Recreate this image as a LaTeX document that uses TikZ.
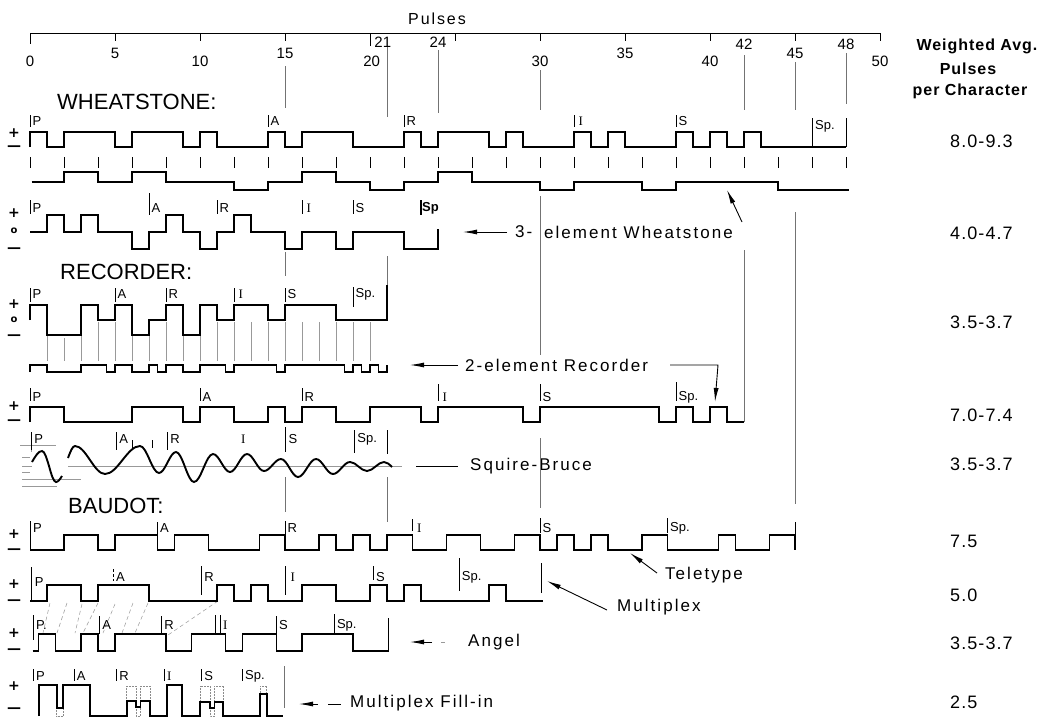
\documentclass[tikz,border=0pt]{standalone}
\usepackage{fontspec}
\setmainfont{Liberation Sans}
\newfontfamily\spc[LetterSpace=12]{Liberation Sans}
\newfontfamily\spcv[LetterSpace=6]{Liberation Sans}
\newfontfamily\serI{Liberation Serif}
\newfontfamily\djv{DejaVu Sans}
\usetikzlibrary{arrows.meta}
\newcounter{nd}
\tikzset{
  sig/.style={line width=1.9pt, line join=miter},
  guide/.style={line width=0.6pt, black!55},
  bar/.style={line width=0.9pt},
  tick/.style={line width=0.9pt},
  gl/.style={line width=0.5pt, black!40},
  dotbox/.style={line width=0.5pt, black!45, densely dotted},
  lab/.style={inner sep=0pt, anchor=west, font=\fontsize{13}{13}\selectfont},
  num/.style={inner sep=0pt, font=\fontsize{15}{15}\selectfont},
  ttl/.style={inner sep=0pt, anchor=west, font=\fontsize{22}{22}\selectfont},
  txt/.style={inner sep=0pt, anchor=west, font=\spc\fontsize{17}{17}\selectfont},
  val/.style={inner sep=0pt, anchor=west, font=\spcv\fontsize{18}{18}\selectfont},
  hdr/.style={inner sep=0pt, font=\spcv\bfseries\fontsize{16}{16}\selectfont},
  sgn/.style={inner sep=0pt, font=\djv\bfseries\fontsize{14}{14}\selectfont},
  sgo/.style={inner sep=0pt, font=\djv\bfseries\fontsize{10}{10}\selectfont},
  arr/.style={line width=0.9pt, -{Latex[length=14pt,width=5pt]}},
}
\newcommand\LL[5]{\stepcounter{nd}\draw[bar] (#1,#2) -- (#1,#3); \node[lab,xshift=2.5pt] (lb\arabic{nd}) at (#1,#4) {#5};}
\begin{document}
\begin{tikzpicture}[x=1pt,y=-1pt]
\useasboundingbox (0,0) rectangle (1054,718);
\fill[white] (0,0) rectangle (1054,718);

% ---------- titles and right column ----------
\node[inner sep=0pt, font=\spc\fontsize{16}{16}\selectfont] (pulses) at (437,19) {Pulses};
\node[ttl] (wh) at (57,102) {WHEATSTONE:};
\node[ttl] (rec) at (60,272) {RECORDER:};
\node[ttl] (bau) at (68,506) {BAUDOT:};

\node[hdr] (h1) at (977,46) {Weighted Avg.};
\node[hdr] (h2) at (968,69) {Pulses};
\node[hdr] (h3) at (970,91) {per Character};
\node[val] (v1) at (950,141) {8.0-9.3};
\node[val] (v2) at (950,233) {4.0-4.7};
\node[val] (v3) at (950,322) {3.5-3.7};
\node[val] (v4) at (950,415) {7.0-7.4};
\node[val] (v5) at (950,464) {3.5-3.7};
\node[val] (v6) at (950,541) {7.5};
\node[val] (v7) at (950,595) {5.0};
\node[val] (v8) at (950,643) {3.5-3.7};
\node[val] (v9) at (950,702) {2.5};

% ---------- +, o, - signs ----------
\node[sgn] (s1) at (14,133) {+};  \node[sgn] (s2) at (14,148) {\textemdash};
\node[sgn] (s3) at (14,213) {+};  \node[sgo] (s4) at (14,231) {o}; \node[sgn] (s5) at (14,250) {\textemdash};
\node[sgn] (s6) at (14,304) {+};  \node[sgo] (s7) at (14,320) {o}; \node[sgn] (s8) at (14,337) {\textemdash};
\node[sgn] (s9) at (14,406) {+};  \node[sgn] (s10) at (14,422) {\textemdash};
\node[sgn] (s11) at (14,534) {+}; \node[sgn] (s12) at (14,551) {\textemdash};
\node[sgn] (s13) at (14,584) {+}; \node[sgn] (s14) at (14,602) {\textemdash};
\node[sgn] (s15) at (14,633) {+}; \node[sgn] (s16) at (14,651) {\textemdash};
\node[sgn] (s17) at (14,686) {+}; \node[sgn] (s18) at (14,710) {\textemdash};

% ---------- Squire-Bruce wave (absolute) ----------
\draw[gl] (20,445) -- (56,445); \draw[gl] (22,457) -- (30,457); \draw[gl] (22,466) -- (32,466);
\draw[gl] (22,472) -- (30,472); \draw[gl] (22,479) -- (81,479); \draw[gl] (22,486) -- (57,486);
\draw[gl] (31,437) -- (31,452); \draw[gl] (68,466) -- (402,466);
\draw[sig] (32,462) sin (42,451) cos (49,466) sin (56,482) cos (62,476);
\draw[sig] (68,458) sin (75,446) cos (90,460) sin (105,474) cos (122.5,460) sin (140,446)
  cos (149.5,459.5) sin (159,473) cos (167.5,462.5) sin (176,452) cos (185,467) sin (194,482)
  cos (203.5,468) sin (213,454) cos (221.5,463) sin (230,472) cos (238.5,463) sin (247,454)
  cos (255.5,462.5) sin (264,471) cos (272.5,465) sin (281,459) cos (289.5,468) sin (298,477)
  cos (307,468) sin (316,459) cos (324.5,466.5) sin (333,474) cos (341.5,468) sin (350,462)
  cos (358.5,466.5) sin (367,471) cos (375.5,466.5) sin (384,462) cos (392,467);

% ---------- labels with arrows ----------
\coordinate (a3t) at (507,232); \coordinate (a3h) at (463,232);
\draw[arr] (a3t) -- (a3h);
\node[txt] (t3a) at (515,232) {3-};
\node[txt] (t3b) at (544,232) {element Wheatstone};
\coordinate (a3u) at (742,222); \coordinate (a3v) at (727,190);
\draw[arr] (a3u) -- (a3v);

\coordinate (a2t) at (458,365); \coordinate (a2h) at (410,365);
\draw[arr] (a2t) -- (a2h);
\node[txt] (t2) at (465,365) {2-element Recorder};
\coordinate (b1) at (670,365); \coordinate (b2) at (718,365); \coordinate (b3) at (715,402);
\draw[arr] (b1) -- (b2) -- (b3);

\coordinate (sq1) at (416,466); \coordinate (sq2) at (458,466);
\draw[line width=0.9pt] (sq1) -- (sq2);
\node[txt] (tsq) at (470,466) {Squire-Bruce};

\coordinate (tt1) at (657,573); \coordinate (tt2) at (630,553);
\draw[arr] (tt1) -- (tt2);
\node[txt] (ttt) at (665,575) {Teletype};

\coordinate (mp1) at (607,610); \coordinate (mp2) at (547,581);
\draw[arr] (mp1) -- (mp2);
\node[txt] (tmp) at (617,607) {Multiplex};

\coordinate (an1) at (432,642); \coordinate (an2) at (410,642);
\draw[arr] (an1) -- (an2);
\coordinate (an3) at (441,642); \coordinate (an4) at (445,642);
\draw[gl] (an3) -- (an4);
\node[txt] (tan) at (468,642) {Angel};

\coordinate (fi1) at (318,704); \coordinate (fi2) at (299,704);
\draw[arr] (fi1) -- (fi2);
\coordinate (fi3) at (328,704); \coordinate (fi4) at (341,704);
\draw[line width=0.9pt] (fi3) -- (fi4);
\node[txt] (tfi) at (350,703) {Multiplex Fill-in};

% ---------- multiplex to angel dashed ----------
\foreach \a/\b/\c/\d in {50/603/43/633, 67/603/57/633, 82/604/75/633, 98/603/83/633,
  115/604/103/633, 133/603/122/633, 148/603/135/633, 218/601/168/635}
  \draw[gl, dashed, dash pattern=on 4pt off 3pt] (\a,\b) -- (\c,\d);

% ================= pulse-scaled part =================
\begin{scope}[xshift=30pt, x=17pt]
% axis
\draw[tick] (0,33) -- (50,33);
\foreach \p in {5,10,...,50} \draw[tick] (\p,33) -- (\p,41);
\draw[tick] (0,33) -- (0,44);
\draw[tick] (20,33) -- (20,46);
\node[num] (n0) at (0,61) {0};
\node[num] (n5) at (5,53) {5};
\node[num] (n10) at (10,61) {10};
\node[num] (n15) at (15,53) {15};
\node[num] (n20) at (20.1,61) {20};
\node[num] (n21) at (20.75,42) {21};
\node[num] (n24) at (24,42) {24};
\node[num] (n30) at (30,61) {30};
\node[num] (n35) at (35,53) {35};
\node[num] (n40) at (40,61) {40};
\node[num] (n42) at (42,44) {42};
\node[num] (n45) at (45,53) {45};
\node[num] (n48) at (48,44) {48};
\node[num] (n50) at (50,61) {50};
\draw[guide] (15,66) -- (15,108);
\draw[guide] (21,47) -- (21,117);
\draw[guide] (24,50) -- (24,113);
\draw[guide] (30,70) -- (30,110);
\draw[guide] (42,55) -- (42,110);
\draw[guide] (45,62) -- (45,110);
\draw[guide] (48,53) -- (48,104);

% guides across rows
\draw[guide] (15,252) -- (15,276);
\draw[guide] (15,477) -- (15,512);
\draw[guide] (21,256) -- (21,285);
\draw[guide] (21,477) -- (21,522);
\draw[guide] (30,196) -- (30,355);
\draw[guide] (30,438) -- (30,508);
\draw[guide] (42,250) -- (42,422);
\draw[guide] (45,212) -- (45,504);

% ----- Wheatstone -----
\LL{0}{115}{127}{121}{P}
\LL{14}{115}{127}{121}{A}
\LL{22}{115}{127}{121}{R}
\LL{32}{115}{127}{121}{\hspace{2pt}\serI I}
\LL{38}{115}{127}{121}{S}
\draw[bar] (46,118) -- (46,147); \draw[bar] (48,118) -- (48,147);
\node[lab,xshift=3pt] (whsp) at (46,126) {Sp.};
\draw[sig] (0,147) -- (0,132) -| (1,147) -| (2,132) -| (5,147) -| (6,132) -| (9,147) -| (10,132)
  -| (11,147) -| (14,132) -| (15,147) -| (16,132) -| (19,147) -| (22,132) -| (23,147) -| (24,132)
  -| (27,147) -| (28,132) -| (29,147) -| (32,132) -| (33,147) -| (34,132) -| (35,147) -| (38,132)
  -| (39,147) -| (40,132) -| (41,147) -| (42,132) -| (43,147) -- (48,147);
\foreach \p in {0,2,...,48} \draw[bar] (\p,157) -- (\p,168);
\draw[sig] (0.1,182) -| (2,172) -| (4,182) -| (6,172) -| (8,182) -| (12,190) -| (14,182) -| (16,172)
  -| (18,182) -| (20,190) -| (22,182) -| (24,172) -| (26,182) -| (30,190) -| (32,182) -| (36,190)
  -| (38,182) -| (44,190) -- (48.2,190);

% ----- 3-element Wheatstone -----
\LL{0}{200}{214}{208}{P}
\LL{7}{193}{215}{208}{A}
\LL{11}{200}{214}{208}{R}
\LL{16}{200}{214}{208}{\hspace{2pt}\serI I}
\LL{19}{200}{214}{208}{S}
\draw[line width=1.3pt] (23,200) -- (23,215);
\node[lab,xshift=1pt,font=\bfseries\fontsize{13}{13}\selectfont] (sp3) at (23,208) {Sp};
\draw[sig] (0,232) -| (1,215) -| (2,232) -| (3,215) -| (4,232) -| (6,249) -| (7,232) -| (8,215)
  -| (9,232) -| (10,249) -| (11,232) -| (12,215) -| (13,232) -| (15,249) -| (16,232) -| (18,249)
  -| (19,232) -| (22,249) -- (24,249) -- (24,229);

% ----- Recorder -----
\LL{0}{288}{302}{294}{P}
\LL{5}{288}{302}{294}{A}
\LL{8}{288}{302}{294}{R}
\LL{12}{288}{302}{294}{\hspace{2pt}\serI I}
\LL{15}{288}{302}{294}{S}
\LL{19}{287}{307}{294}{Sp.}
\foreach \p in {1,3,4,...,20} \draw[gl] (\p,322) -- (\p,361);
\draw[gl] (2,338) -- (2,361);
\draw[sig] (0,320) -- (0,305) -| (1,335) -| (3,305) -| (4,320) -| (5,305) -| (6,335) -| (7,320)
  -| (8,305) -| (9,335) -| (10,305) -| (11,320) -| (12,305) -| (14,320) -| (15,305) -| (18,320)
  -- (21,320) -- (21,285);
\draw[sig] (0,372) -- (0,365) -| (1,372) -| (3,365) -| (4.5,372) -| (5,365) -| (6,372) -| (7,365)
  -| (7.5,372) -| (8,365) -| (9,372) -| (10,365) -| (11.5,372) -| (12,365) -| (14.5,372) -| (15,365)
  -| (18.5,372) -| (19,365) -| (19.5,372) -| (20,365) -| (20.5,372) -| (21,365);

% ----- 7.0-7.4 trace -----
\LL{0}{388}{401}{397}{P}
\LL{10}{388}{401}{397}{A}
\LL{16}{388}{401}{397}{R}
\LL{24}{384}{401}{397}{\hspace{2pt}\serI I}
\LL{30}{384}{401}{397}{S}
\LL{38}{382}{401}{397}{Sp.}
\draw[sig] (0,422) -- (0,407) -| (2,422) -| (6,407) -| (9,422) -| (10,407) -| (12,422) -| (14,407)
  -| (15,422) -| (16,407) -| (18,422) -| (20,407) -| (23,422) -| (24,407) -| (29,422) -| (30,407)
  -| (37,422) -| (38,407) -| (39,422) -| (40,407) -| (41,422) -- (42,422);

% ----- Squire-Bruce labels -----
\LL{0.1}{432}{450}{439}{P}
\LL{5.1}{432}{450}{439}{A}
\LL{8.1}{432}{450}{439}{R}
\node[lab] (sqI) at (12.4,439) {\serI I};
\LL{15.05}{427}{452}{439}{S}
\LL{19.1}{430}{453}{439}{Sp.}
\draw[bar] (21,430) -- (21,454);
\draw[bar] (6.0,440) -- (6.0,448);
\draw[bar] (7.2,440) -- (7.2,448);

% ----- Teletype -----
\draw[bar] (0,521) -- (0,550);
\node[lab,xshift=3pt] (tP) at (0,528) {P};
\LL{7.5}{522}{534}{528}{A}
\LL{15}{521}{534}{528}{R}
\LL{22.5}{519}{531}{528}{\hspace{2pt}\serI I}
\LL{30}{518}{533}{528}{S}
\LL{37.5}{518}{533}{528}{Sp.}
\draw[sig] (0,550) -| (2,535) -| (4,550) -| (5,535) -| (7.5,550) -| (8.5,535) -| (10.5,550)
  -| (13.5,535) -| (15,550) -| (17,535) -| (18,550) -| (19,535) -| (20,550) -| (21,535)
  -| (22.5,550) -| (24.5,535) -| (26.5,550) -| (28.5,535) -| (30,550) -| (31,535) -| (32,550)
  -| (33,535) -| (34,550) -| (36,535) -| (37.5,550) -| (40.5,535) -| (41.5,550) -| (43.5,535)
  -- (45,535) -- (45,550);
\draw[bar] (45,522) -- (45,535);

% ----- Multiplex -----
\draw[bar] (0.1,567) -- (0.1,601);
\node[lab,xshift=3pt] (mP) at (0.1,582) {P};
\draw[bar, densely dashed] (4.9,569) -- (4.9,581);
\node[lab,xshift=2.5pt] (mA) at (4.9,577) {A};
\LL{10.1}{566}{595}{577}{R}
\LL{15.05}{566}{595}{577}{\hspace{2pt}\serI I}
\LL{20.2}{566}{580}{577}{S}
\LL{25.25}{558}{591}{577}{Sp.}
\draw[bar] (30.1,563) -- (30.1,593);
\draw[sig] (0,601) -| (1,585) -| (3,601) -| (4,585) -| (7,601) -| (11,585) -| (12,601) -| (13,585)
  -| (14,601) -| (16,585) -| (18,601) -| (20,585) -| (21,601) -| (22,585) -| (23,601) -| (27,585)
  -| (28,601) -- (30.2,601);

% ----- Angel -----
\LL{0.2}{615}{640}{625}{P.}
\LL{4.1}{616}{634}{625}{A}
\LL{7.75}{616}{635}{625}{R}
\draw[bar] (10.9,615) -- (10.9,635);
\LL{11.2}{615}{635}{625}{\serI I}
\LL{14.5}{616}{634}{625}{S}
\LL{17.9}{614}{634}{625}{Sp.}
\draw[bar] (21.1,618) -- (21.1,651);
\draw[sig] (0.15,651) -| (0.5,634) -| (1.5,651) -| (3,634) -| (4,651) -| (5,634) -| (8,651)
  -| (9.5,634) -| (11.5,651) -| (12.5,634) -| (14.5,651) -| (16,634) -| (19,651) -- (21.1,651);

% ----- Multiplex Fill-in -----
\LL{0.2}{669}{681}{676}{P}
\LL{2.6}{669}{681}{676}{A}
\LL{5.1}{669}{681}{676}{R}
\LL{7.9}{669}{681}{676}{\serI I}
\LL{10.1}{669}{681}{676}{S}
\LL{12.5}{669}{681}{676}{Sp.}
\draw[guide] (14.95,666) -- (14.95,708);
\draw[dotbox] (1.57,708) rectangle (1.96,716);
\draw[dotbox] (5.69,686) rectangle (6.25,701);
\draw[dotbox] (6.5,686) rectangle (7.06,701);
\draw[dotbox] (6.25,707) rectangle (6.5,716);
\draw[dotbox] (10,686) rectangle (10.6,702);
\draw[dotbox] (10.85,686) rectangle (11.37,702);
\draw[dotbox] (10.6,708) rectangle (10.85,716);
\draw[dotbox] (13.53,686) rectangle (13.92,694);
\draw[sig] (0.55,716) -- (0.55,685) -| (1.57,708) -| (1.96,685) -| (3.53,716) -| (5.69,701)
  -| (6.25,707) -| (6.5,701) -| (7.06,716) -| (8.04,685) -| (8.92,716) -| (10,702) -| (10.6,708)
  -| (10.85,702) -| (11.37,716) -| (13.53,694) -| (13.92,716) -- (14.9,716);
\end{scope}
\end{tikzpicture}
\end{document}
